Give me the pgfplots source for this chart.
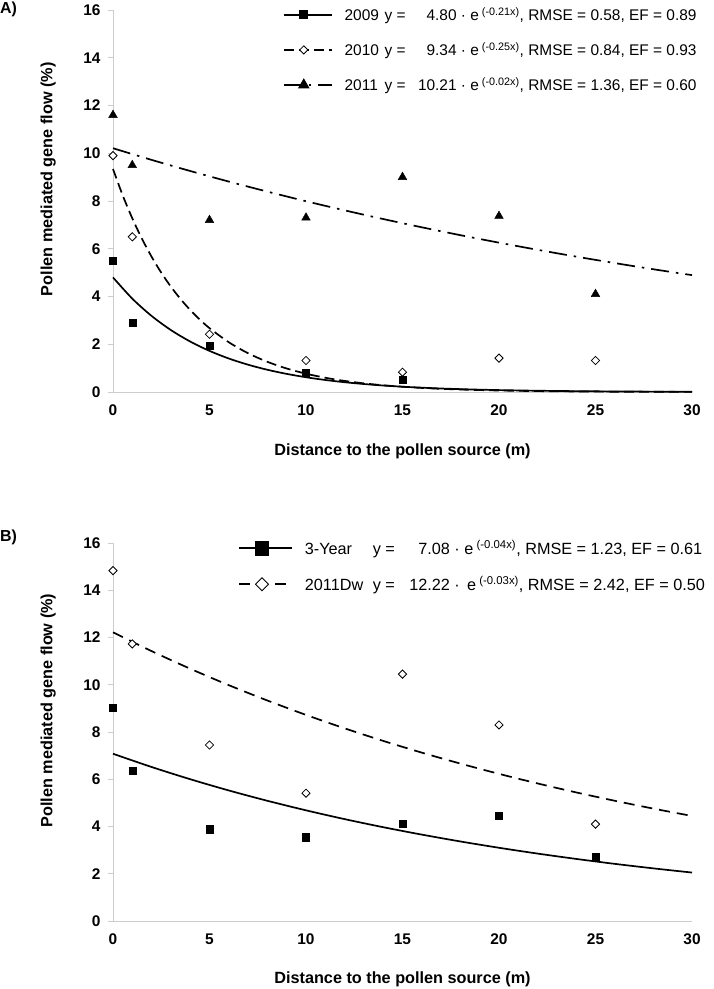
\documentclass[border=0pt]{standalone}
\usepackage{fontspec}
\setmainfont{Liberation Sans}
\usepackage{pgfplots}
\pgfplotsset{compat=1.18}
\definecolor{axgray}{RGB}{205,205,205}

\pgfplotsset{
  myaxis/.style={
    scale only axis, width=579bp,
    xmin=0, xmax=30, ymin=0, ymax=16,
    xtick={0,5,...,30}, ytick={0,2,...,16},
    axis x line*=bottom, axis y line*=left,
    axis line style={axgray, line width=0.9bp, -},
    tick style={axgray, line width=0.9bp},
    tick align=outside, major tick length=5bp,
    xtick style={draw=none},
    ticklabel style={font=\fontsize{15.5}{18}\selectfont\bfseries},
    /pgf/number format/assume math mode=true,
    xticklabel style={yshift=-4.5bp},
    yticklabel style={xshift=-4bp},
    xlabel={Distance to the pollen source (m)},
    ylabel={Pollen mediated gene flow (\%)},
    label style={font=\fontsize{16.3}{19}\selectfont\bfseries},
    xlabel style={at={(axis description cs:0.5,-0.155)}, anchor=center},
    ylabel style={at={(axis description cs:-0.112,0.557)}, anchor=center},
    clip=false,
    legend cell align=left,
  },
  fitline/.style={black, line width=1.7bp, smooth, no markers, forget plot},
  sq/.style={mark=square*, mark size=3.6bp, mark options={solid, fill=black, draw=black}},
  dia/.style={mark=square*, mark size=2.9bp, mark options={solid, rotate=45, fill=white, draw=black, line width=0.8bp}},
  tri/.style={mark=triangle*, mark size=5bp, mark options={solid, fill=black, draw=black}},
}

\begin{document}
\begin{tikzpicture}
\useasboundingbox (0,0) rectangle (714bp,-989bp);

\node[anchor=west, font=\fontsize{16}{19}\selectfont\bfseries, inner sep=0pt] at (0bp,-9bp) {A)};
\node[anchor=west, font=\fontsize{16}{19}\selectfont\bfseries, inner sep=0pt] at (0bp,-537bp) {B)};

% ---------------- Panel A ----------------
\begin{axis}[myaxis, height=382bp,
  at={(113bp,-392bp)}, anchor=south west,
  legend image code/.code={\draw[mark repeat=2, mark phase=2, #1] plot coordinates {(0bp,0bp) (20bp,0bp) (48bp,0bp)};},
  legend style={draw=none, fill=none, at={(axis description cs:0.288,1.012)}, anchor=north west,
    font=\fontsize{15.5}{18}\selectfont, row sep=20.5bp, column sep=12bp,
    nodes={inner sep=0bp}},
]
\addlegendimage{black, line width=1.7bp, solid, sq}
\addlegendentry{\makebox[40bp][l]{2009}y =\makebox[51bp][r]{4.80} · e\textsuperscript{ (-0.21x)}, RMSE = 0.58, EF = 0.89}
\addlegendimage{black, line width=1.7bp, dash pattern=on 10bp off 5bp, dia}
\addlegendentry{\makebox[40bp][l]{2010}y =\makebox[51bp][r]{9.34} · e\textsuperscript{ (-0.25x)}, RMSE = 0.84, EF = 0.93}
\addlegendimage{black, line width=1.7bp, dash pattern=on 18bp off 7bp on 2.5bp off 7bp, tri}
\addlegendentry{\makebox[40bp][l]{2011}y =\makebox[51bp][r]{10.21} · e\textsuperscript{ (-0.02x)}, RMSE = 1.36, EF = 0.60}

% fitted curves
\addplot[fitline] coordinates {
(0,4.800)(1,3.910)(2,3.186)(3,2.595)(4,2.114)(5,1.722)(6,1.403)(7,1.143)(8,0.931)(9,0.759)
(10,0.618)(11,0.503)(12,0.410)(13,0.334)(14,0.272)(15,0.222)(16,0.181)(17,0.147)(18,0.120)
(19,0.098)(20,0.080)(22,0.053)(24,0.035)(26,0.023)(28,0.015)(30,0.010)};
\addplot[fitline, dash pattern=on 10bp off 5bp] coordinates {
(0,9.340)(0.5,8.243)(1,7.274)(1.5,6.419)(2,5.665)(2.5,4.999)(3,4.412)(3.5,3.893)(4,3.436)
(4.5,3.032)(5,2.676)(6,2.084)(7,1.623)(8,1.264)(9,0.984)(10,0.767)(11,0.597)(12,0.465)
(13,0.362)(14,0.282)(15,0.220)(16,0.171)(17,0.133)(18,0.104)(19,0.081)(20,0.063)(22,0.038)
(24,0.023)(26,0.014)(28,0.0085)(30,0.0052)};
\addplot[fitline, dash pattern=on 18bp off 7bp on 2.5bp off 7bp] coordinates {
(0,10.210)(2,9.722)(4,9.257)(6,8.814)(8,8.393)(10,7.991)(12,7.609)(14,7.245)(16,6.899)
(18,6.569)(20,6.255)(22,5.956)(24,5.671)(26,5.400)(28,5.141)(30,4.896)};

% observations
\addplot[only marks, sq, forget plot] coordinates {(0,5.5)(1,2.9)(5,1.93)(10,0.80)(15,0.52)};
\addplot[only marks, dia, forget plot] coordinates {(0,9.9)(1,6.5)(5,2.42)(10,1.32)(15,0.83)(20,1.42)(25,1.32)};
\addplot[only marks, tri, forget plot] coordinates {(0,11.6)(1,9.5)(5,7.2)(10,7.3)(15,9.0)(20,7.37)(25,4.1)};
\end{axis}

% ---------------- Panel B ----------------
\begin{axis}[myaxis, height=378bp,
  at={(113bp,-921bp)}, anchor=south west,
  legend image code/.code={\draw[mark repeat=2, mark phase=2, #1] plot coordinates {(0bp,0bp) (23bp,0bp) (53bp,0bp)};},
  legend style={draw=none, fill=none, at={(axis description cs:0.2107,1.013)}, anchor=north west,
    font=\fontsize{16.3}{19}\selectfont, row sep=20bp, column sep=12bp,
    nodes={inner sep=0bp}},
]
\addlegendimage{black, line width=1.7bp, solid, mark=square*, mark size=6.5bp, mark options={solid, fill=black}}
\addlegendentry{\makebox[68bp][l]{3-Year}y =\makebox[55bp][r]{7.08} · e\textsuperscript{ (-0.04x)}, RMSE = 1.23, EF = 0.61}
\addlegendimage{black, line width=1.7bp, dash pattern=on 11bp off 7bp, mark=square*, mark size=4.6bp, mark options={solid, rotate=45, fill=white, draw=black, line width=1bp}}
\addlegendentry{\makebox[68bp][l]{2011Dw}y =\makebox[55bp][r]{12.22} ·\, e\textsuperscript{ (-0.03x)}, RMSE = 2.42, EF = 0.50}

\addplot[fitline] coordinates {
(0,7.080)(2,6.519)(4,6.002)(6,5.526)(8,5.088)(10,4.685)(12,4.313)(14,3.971)(16,3.657)
(18,3.367)(20,3.100)(22,2.854)(24,2.628)(26,2.419)(28,2.228)(30,2.051)};
\addplot[fitline, dash pattern=on 11bp off 7bp] coordinates {
(0,12.220)(2,11.424)(4,10.679)(6,9.983)(8,9.333)(10,8.724)(12,8.156)(14,7.624)(16,7.127)
(18,6.663)(20,6.229)(22,5.823)(24,5.443)(26,5.089)(28,4.757)(30,4.447)};

\addplot[only marks, sq, forget plot] coordinates {(0,9.03)(1,6.36)(5,3.89)(10,3.55)(15,4.11)(20,4.47)(25,2.71)};
\addplot[only marks, dia, forget plot] coordinates {(0,14.83)(1,11.73)(5,7.45)(10,5.41)(15,10.45)(20,8.30)(25,4.10)};
\end{axis}
\end{tikzpicture}
\end{document}
